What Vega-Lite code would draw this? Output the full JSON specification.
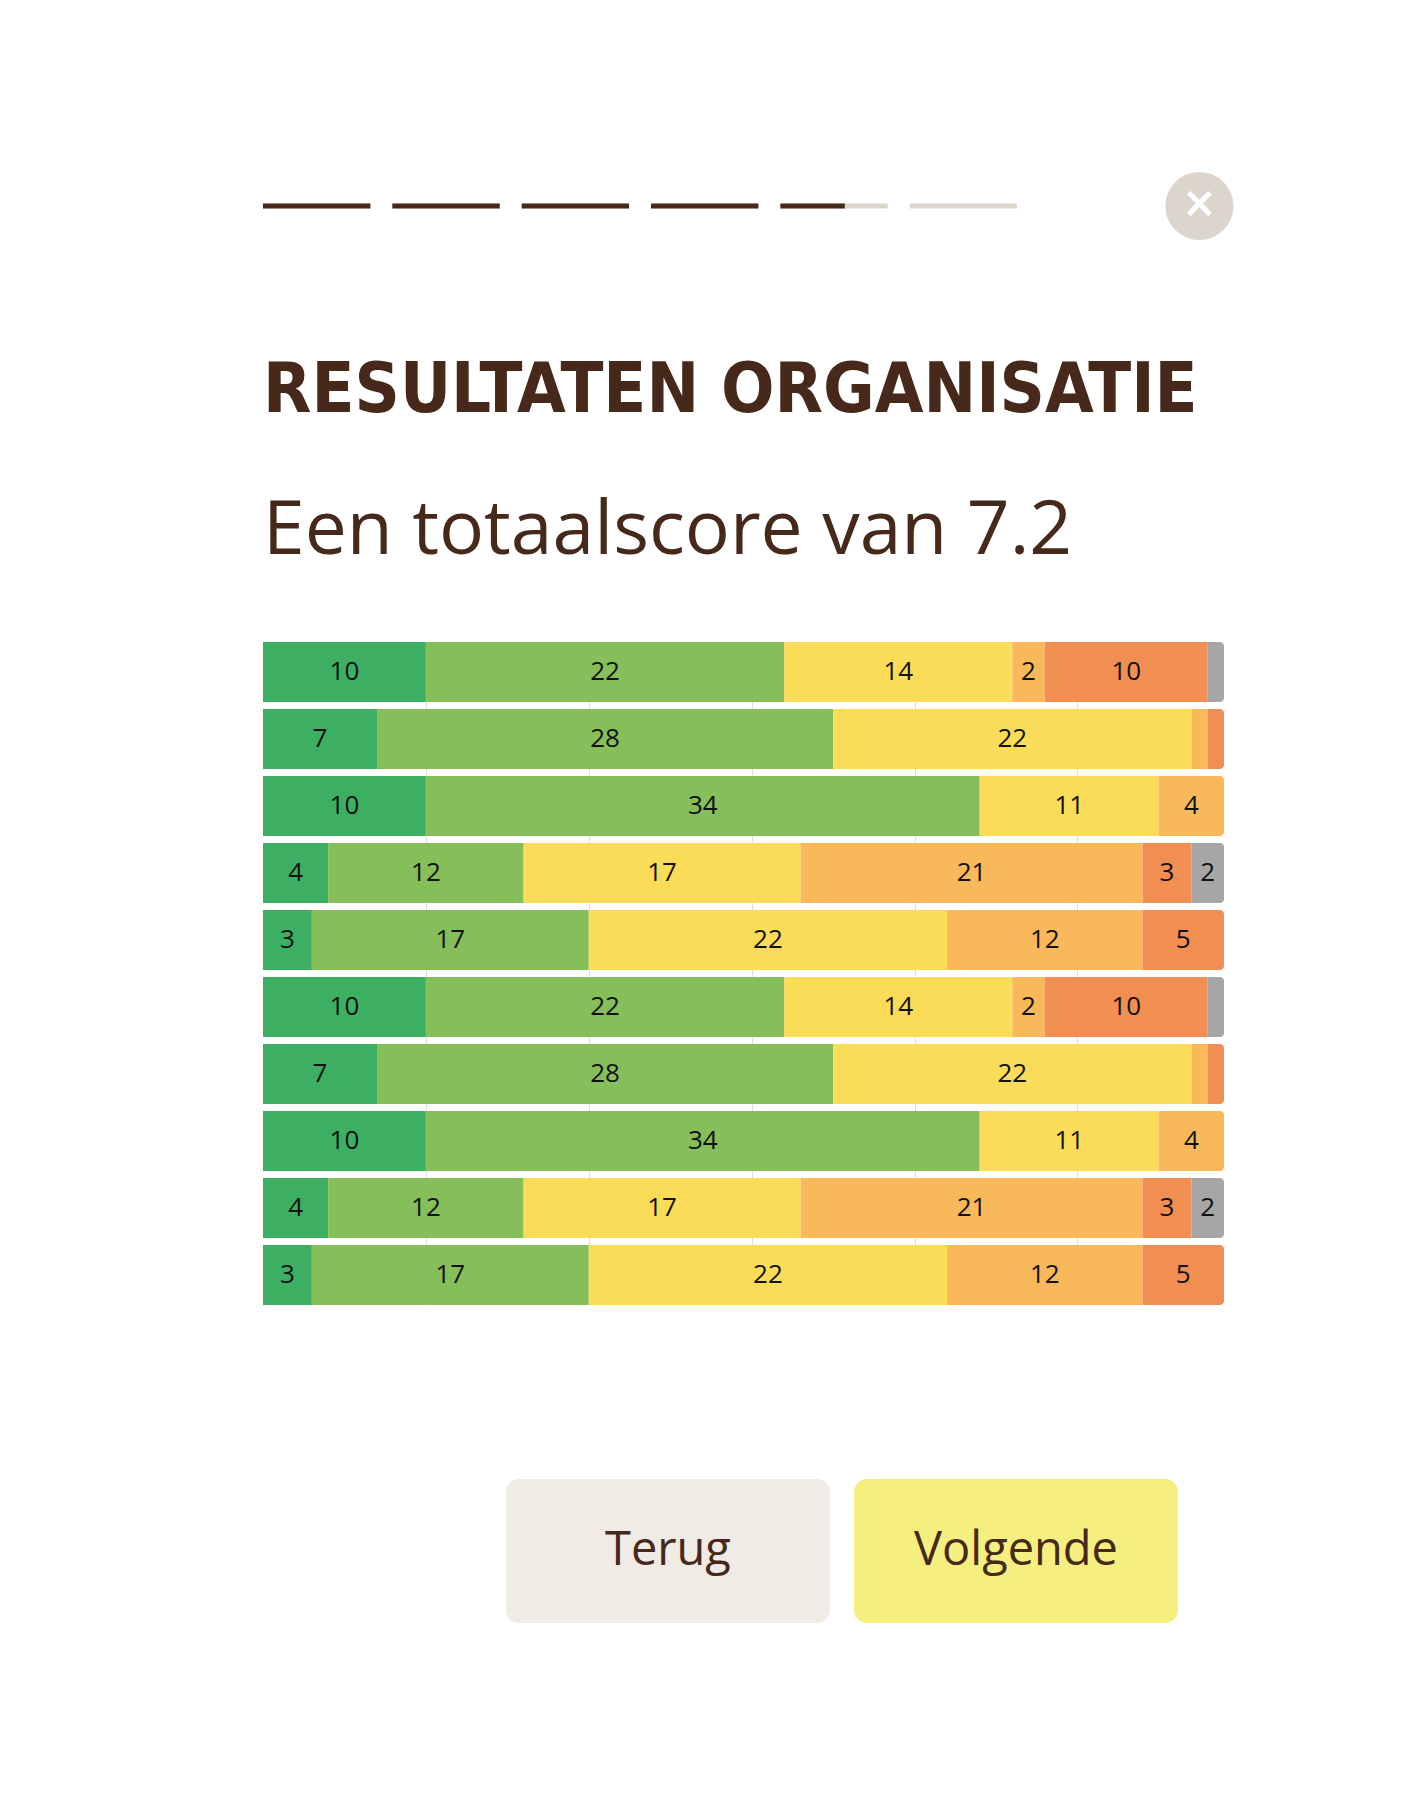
{
  "$schema": "https://vega.github.io/schema/vega-lite/v6.json",
  "background": "white",
  "padding": {"left": 260, "top": 96, "right": 10, "bottom": 10},
  "spacing": 40,
  "config": {"view": {"stroke": null}, "font": "Open Sans"},
  "resolve": {"scale": {"x": "independent", "y": "independent", "color": "independent"}},
  "datasets": {
    "progress": [
      {"step": 1, "done": 1},
      {"step": 2, "done": 1},
      {"step": 3, "done": 1},
      {"step": 4, "done": 1},
      {"step": 5, "done": 0.6},
      {"step": 6, "done": 0}
    ],
    "scores": [
      {"q": 1, "k": 1, "cat": "Zeer goed", "v": 10},
      {"q": 1, "k": 2, "cat": "Goed", "v": 22},
      {"q": 1, "k": 3, "cat": "Neutraal", "v": 14},
      {"q": 1, "k": 4, "cat": "Matig", "v": 2},
      {"q": 1, "k": 5, "cat": "Slecht", "v": 10},
      {"q": 1, "k": 6, "cat": "Geen antwoord", "v": 1},
      {"q": 2, "k": 1, "cat": "Zeer goed", "v": 7},
      {"q": 2, "k": 2, "cat": "Goed", "v": 28},
      {"q": 2, "k": 3, "cat": "Neutraal", "v": 22},
      {"q": 2, "k": 4, "cat": "Matig", "v": 1},
      {"q": 2, "k": 5, "cat": "Slecht", "v": 1},
      {"q": 3, "k": 1, "cat": "Zeer goed", "v": 10},
      {"q": 3, "k": 2, "cat": "Goed", "v": 34},
      {"q": 3, "k": 3, "cat": "Neutraal", "v": 11},
      {"q": 3, "k": 4, "cat": "Matig", "v": 4},
      {"q": 4, "k": 1, "cat": "Zeer goed", "v": 4},
      {"q": 4, "k": 2, "cat": "Goed", "v": 12},
      {"q": 4, "k": 3, "cat": "Neutraal", "v": 17},
      {"q": 4, "k": 4, "cat": "Matig", "v": 21},
      {"q": 4, "k": 5, "cat": "Slecht", "v": 3},
      {"q": 4, "k": 6, "cat": "Geen antwoord", "v": 2},
      {"q": 5, "k": 1, "cat": "Zeer goed", "v": 3},
      {"q": 5, "k": 2, "cat": "Goed", "v": 17},
      {"q": 5, "k": 3, "cat": "Neutraal", "v": 22},
      {"q": 5, "k": 4, "cat": "Matig", "v": 12},
      {"q": 5, "k": 5, "cat": "Slecht", "v": 5},
      {"q": 6, "k": 1, "cat": "Zeer goed", "v": 10},
      {"q": 6, "k": 2, "cat": "Goed", "v": 22},
      {"q": 6, "k": 3, "cat": "Neutraal", "v": 14},
      {"q": 6, "k": 4, "cat": "Matig", "v": 2},
      {"q": 6, "k": 5, "cat": "Slecht", "v": 10},
      {"q": 6, "k": 6, "cat": "Geen antwoord", "v": 1},
      {"q": 7, "k": 1, "cat": "Zeer goed", "v": 7},
      {"q": 7, "k": 2, "cat": "Goed", "v": 28},
      {"q": 7, "k": 3, "cat": "Neutraal", "v": 22},
      {"q": 7, "k": 4, "cat": "Matig", "v": 1},
      {"q": 7, "k": 5, "cat": "Slecht", "v": 1},
      {"q": 8, "k": 1, "cat": "Zeer goed", "v": 10},
      {"q": 8, "k": 2, "cat": "Goed", "v": 34},
      {"q": 8, "k": 3, "cat": "Neutraal", "v": 11},
      {"q": 8, "k": 4, "cat": "Matig", "v": 4},
      {"q": 9, "k": 1, "cat": "Zeer goed", "v": 4},
      {"q": 9, "k": 2, "cat": "Goed", "v": 12},
      {"q": 9, "k": 3, "cat": "Neutraal", "v": 17},
      {"q": 9, "k": 4, "cat": "Matig", "v": 21},
      {"q": 9, "k": 5, "cat": "Slecht", "v": 3},
      {"q": 9, "k": 6, "cat": "Geen antwoord", "v": 2},
      {"q": 10, "k": 1, "cat": "Zeer goed", "v": 3},
      {"q": 10, "k": 2, "cat": "Goed", "v": 17},
      {"q": 10, "k": 3, "cat": "Neutraal", "v": 22},
      {"q": 10, "k": 4, "cat": "Matig", "v": 12},
      {"q": 10, "k": 5, "cat": "Slecht", "v": 5}
    ]
  },
  "vconcat": [
    {
      "width": 961,
      "height": 220,
      "layer": [
        {
          "data": {"name": "progress"},
          "transform": [
            {"calculate": "datum.step - 1", "as": "s0"},
            {"calculate": "datum.step - 1 + 0.83", "as": "s1"}
          ],
          "mark": {"type": "rule", "strokeWidth": 5, "color": "#ddd6cc", "strokeCap": "butt"},
          "encoding": {
            "x": {"field": "s0", "type": "quantitative", "scale": {"domain": [0, 7.43], "nice": false, "zero": false}, "axis": null},
            "x2": {"field": "s1"},
            "y": {"datum": 0, "type": "quantitative", "scale": {"domain": [-1, 1]}, "axis": null}
          }
        },
        {
          "data": {"name": "progress"},
          "transform": [
            {"filter": "datum.done > 0"},
            {"calculate": "datum.step - 1", "as": "s0"},
            {"calculate": "datum.step - 1 + 0.83 * datum.done", "as": "s1"}
          ],
          "mark": {"type": "rule", "strokeWidth": 5, "color": "#46291a", "strokeCap": "butt"},
          "encoding": {
            "x": {"field": "s0", "type": "quantitative"},
            "x2": {"field": "s1"},
            "y": {"datum": 0, "type": "quantitative"}
          }
        },
        {
          "data": {"values": [{"knop": "sluiten"}]},
          "mark": {"type": "point", "shape": "circle", "filled": true, "size": 4650, "color": "#dbd5cb", "opacity": 1},
          "encoding": {
            "x": {"datum": 7.24, "type": "quantitative"},
            "y": {"datum": 0, "type": "quantitative"}
          }
        },
        {
          "data": {"values": [{"knop": "sluiten"}]},
          "mark": {"type": "text", "text": "×", "font": "DejaVu Sans", "fontWeight": "bold", "fontSize": 42, "color": "white", "baseline": "middle", "dy": -2},
          "encoding": {
            "x": {"datum": 7.24, "type": "quantitative"},
            "y": {"datum": 0, "type": "quantitative"}
          }
        }
      ]
    },
    {
      "title": {
        "text": "RESULTATEN ORGANISATIE",
        "subtitle": "Een totaalscore van 7.2",
        "anchor": "start",
        "font": "'Liberation Sans Narrow', 'DejaVu Sans Condensed', 'Roboto Condensed', 'Arial Narrow', sans-serif",
        "fontWeight": "bold",
        "fontSize": 70,
        "color": "#46291a",
        "subtitleFont": "Open Sans",
        "subtitleFontSize": 75,
        "subtitleFontWeight": "normal",
        "subtitleColor": "#46291a",
        "subtitlePadding": 68,
        "offset": 72
      },
      "width": 961,
      "height": 663,
      "data": {"name": "scores"},
      "transform": [
        {"stack": "v", "groupby": ["q"], "sort": [{"field": "k", "order": "ascending"}], "as": ["v0", "v1"]},
        {"joinaggregate": [{"op": "max", "field": "v1", "as": "tot"}], "groupby": ["q"]}
      ],
      "layer": [
        {
          "transform": [{"filter": "datum.v1 < datum.tot"}],
          "mark": {"type": "bar"},
          "encoding": {
            "y": {"field": "q", "type": "ordinal", "axis": null, "scale": {"paddingInner": 0.104, "paddingOuter": 0}},
            "x": {
              "field": "v0", "type": "quantitative",
              "scale": {"domain": [0, 59], "nice": false},
              "axis": {"values": [10, 20, 30, 40, 50], "grid": true, "gridColor": "#dcdcdc", "gridWidth": 1, "labels": false, "ticks": false, "domain": false, "title": null}
            },
            "x2": {"field": "v1"},
            "color": {
              "field": "cat", "type": "nominal",
              "scale": {
                "domain": ["Zeer goed", "Goed", "Neutraal", "Matig", "Slecht", "Geen antwoord"],
                "range": ["#3daf62", "#86bf5a", "#fbdc58", "#f9b95b", "#f18e52", "#a5a6a5"]
              },
              "legend": null
            }
          }
        },
        {
          "transform": [{"filter": "datum.v1 == datum.tot"}],
          "mark": {"type": "bar", "cornerRadiusTopRight": 4, "cornerRadiusBottomRight": 4},
          "encoding": {
            "y": {"field": "q", "type": "ordinal"},
            "x": {"field": "v0", "type": "quantitative"},
            "x2": {"field": "v1"},
            "color": {"field": "cat", "type": "nominal"}
          }
        },
        {
          "transform": [
            {"filter": "datum.v >= 2"},
            {"calculate": "(datum.v0 + datum.v1) / 2", "as": "mid"}
          ],
          "mark": {"type": "text", "font": "Open Sans", "fontSize": 26, "color": "#111111", "baseline": "middle"},
          "encoding": {
            "y": {"field": "q", "type": "ordinal"},
            "x": {"field": "mid", "type": "quantitative"},
            "text": {"field": "v", "type": "quantitative"}
          }
        }
      ]
    },
    {
      "width": 915,
      "height": 278,
      "data": {"values": [{"knop": "Terug"}, {"knop": "Volgende"}]},
      "layer": [
        {
          "mark": {"type": "bar", "cornerRadius": 13},
          "encoding": {
            "x": {"field": "knop", "type": "nominal", "sort": null, "axis": null, "scale": {"paddingInner": 0.069, "paddingOuter": 0.349, "align": 1}},
            "y": {"datum": "knop", "type": "nominal", "axis": null, "scale": {"paddingInner": 0, "paddingOuter": 0.4653, "align": 1}},
            "color": {"field": "knop", "type": "nominal", "scale": {"domain": ["Terug", "Volgende"], "range": ["#f0ebe4", "#f5ef80"]}, "legend": null}
          }
        },
        {
          "mark": {"type": "text", "font": "Open Sans", "fontSize": 47, "color": "#46291a", "baseline": "middle"},
          "encoding": {
            "x": {"field": "knop", "type": "nominal", "sort": null},
            "y": {"datum": "knop", "type": "nominal"},
            "text": {"field": "knop"}
          }
        }
      ]
    }
  ]
}
